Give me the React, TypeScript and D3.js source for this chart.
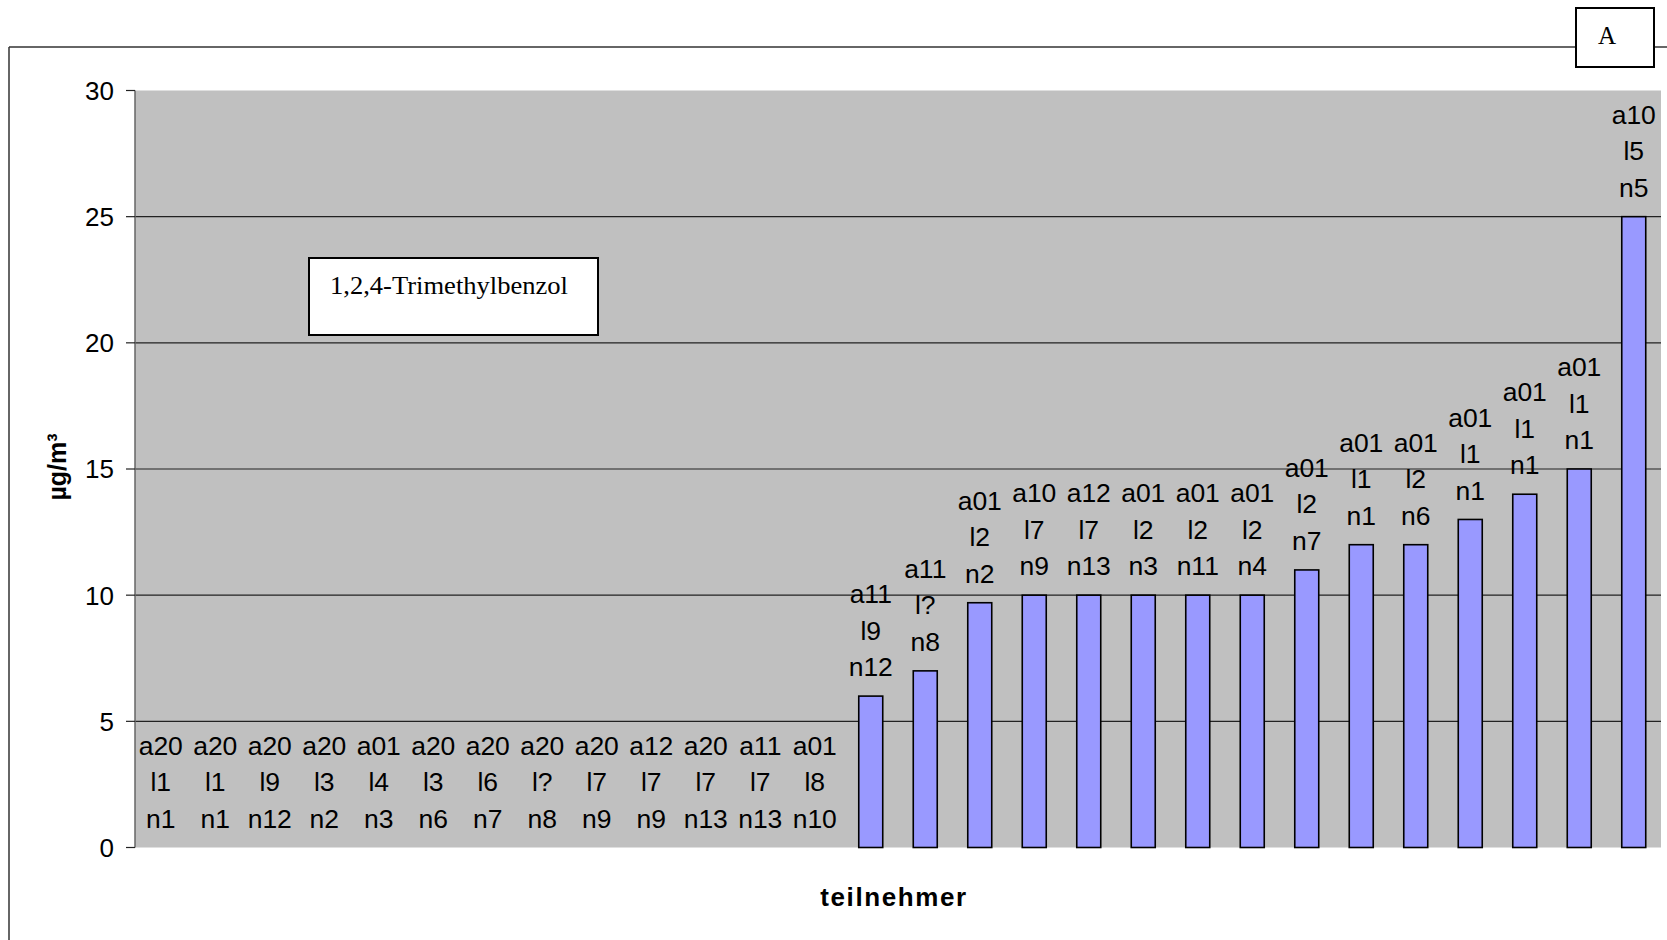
import React from "react";
import * as d3 from "d3";

const values = [0, 0, 0, 0, 0, 0, 0, 0, 0, 0, 0, 0, 0, 6, 7, 9.7, 10, 10, 10, 10, 10, 11, 12, 12, 13, 14, 15, 25];
const aCodes = ["a20", "a20", "a20", "a20", "a01", "a20", "a20", "a20", "a20", "a12", "a20", "a11", "a01", "a11", "a11", "a01", "a10", "a12", "a01", "a01", "a01", "a01", "a01", "a01", "a01", "a01", "a01", "a10"];
const lCodes = ["l1", "l1", "l9", "l3", "l4", "l3", "l6", "l?", "l7", "l7", "l7", "l7", "l8", "l9", "l?", "l2", "l7", "l7", "l2", "l2", "l2", "l2", "l1", "l2", "l1", "l1", "l1", "l5"];
const nCodes = ["n1", "n1", "n12", "n2", "n3", "n6", "n7", "n8", "n9", "n9", "n13", "n13", "n10", "n12", "n8", "n2", "n9", "n13", "n3", "n11", "n4", "n7", "n1", "n6", "n1", "n1", "n1", "n5"];
const yTicks = [0, 5, 10, 15, 20, 25, 30];
const chartTitle = "1,2,4-Trimethylbenzol";
const yTitle = "µg/m³";
const xTitle = "teilnehmer";
const panelLetter = "A";

const W = 1667;
const H = 940;
const plotLeft = 135;
const plotRight = 1661;
const plotTop = 90.5;
const plotBottom = 847.5;

export default function App() {
  const idx = values.map((_, i) => String(i));
  const x = d3.scaleBand().domain(idx).range([plotLeft, plotRight]).paddingInner(0).paddingOuter(0);
  const y = d3.scaleLinear().domain([0, 30]).range([plotBottom, plotTop]);
  const bw = x.bandwidth() * 0.44;
  const sans = "'Liberation Sans', Arial, sans-serif";
  const serif = "'Liberation Serif', 'Times New Roman', serif";
  const lineGap = 36.5;

  return (
    <svg width={W} height={H} style={{ position: "absolute", left: 0, top: 0, display: "block" }}>
      <rect x={0} y={0} width={W} height={H} fill="#ffffff" />
      {/* outer frame */}
      <line x1={9} y1={47} x2={1576} y2={47} stroke="#333" strokeWidth={1.5} />
      <line x1={1654} y1={47} x2={W} y2={47} stroke="#333" strokeWidth={1.5} />
      <line x1={9} y1={47} x2={9} y2={H} stroke="#333" strokeWidth={1.5} />
      <rect x={1576} y={8} width={78} height={59} fill="#fff" stroke="#000" strokeWidth={2} />
      <text x={1607} y={44} fontFamily={serif} fontSize={25} textAnchor="middle" fill="#000">{panelLetter}</text>

      {/* plot area */}
      <rect x={plotLeft} y={plotTop} width={plotRight - plotLeft} height={plotBottom - plotTop} fill="#c0c0c0" />
      {yTicks.filter((t) => t > 0 && t < 30).map((t) => (
        <line key={"g" + t} x1={plotLeft} x2={plotRight} y1={y(t)} y2={y(t)} stroke="#222" strokeWidth={1.2} />
      ))}
      <line x1={plotLeft} x2={plotLeft} y1={plotTop} y2={plotBottom} stroke="#666" strokeWidth={1.5} />
      {yTicks.map((t) => (
        <g key={"t" + t}>
          <line x1={plotLeft - 9} x2={plotLeft} y1={y(t)} y2={y(t)} stroke="#222" strokeWidth={1.2} />
          <text x={114} y={y(t)} dy="0.36em" textAnchor="end" fontFamily={sans} fontSize={26} fill="#000">{t}</text>
        </g>
      ))}

      {/* title box */}
      <rect x={309} y={258} width={289} height={77} fill="#fff" stroke="#000" strokeWidth={2} />
      <text x={330} y={294} fontFamily={serif} fontSize={26} textLength={238} lengthAdjust="spacingAndGlyphs" fill="#000">{chartTitle}</text>

      {/* bars */}
      {values.map((v, i) => {
        const cx = (x(String(i)) as number) + x.bandwidth() / 2;
        return v > 0 ? (
          <rect key={"b" + i} x={cx - bw / 2} y={y(v)} width={bw} height={y(0) - y(v)} fill="#9999ff" stroke="#000" strokeWidth={1.6} />
        ) : null;
      })}

      {/* labels */}
      {values.map((v, i) => {
        const cx = (x(String(i)) as number) + x.bandwidth() / 2 - (v > 0 ? 0 : 1.5);
        const base = y(v) - 29.5;
        const lines = [aCodes[i], lCodes[i], nCodes[i]];
        return (
          <g key={"l" + i}>
            {lines.map((s, k) => (
              <text key={k} x={cx} y={base - (2 - k) * lineGap} dy="0.36em" textAnchor="middle" fontFamily={sans} fontSize={26.5} fill="#000">{s}</text>
            ))}
          </g>
        );
      })}

      {/* axis titles */}
      <text transform="translate(57,467) rotate(-90)" textAnchor="middle" dy="0.36em" fontFamily={sans} fontWeight="bold" fontSize={25} fill="#000">{yTitle}</text>
      <text x={(plotLeft + plotRight) / 2 - 4} y={906} textAnchor="middle" fontFamily={sans} fontWeight="bold" fontSize={26} letterSpacing={1.6} fill="#000">{xTitle}</text>
    </svg>
  );
}
